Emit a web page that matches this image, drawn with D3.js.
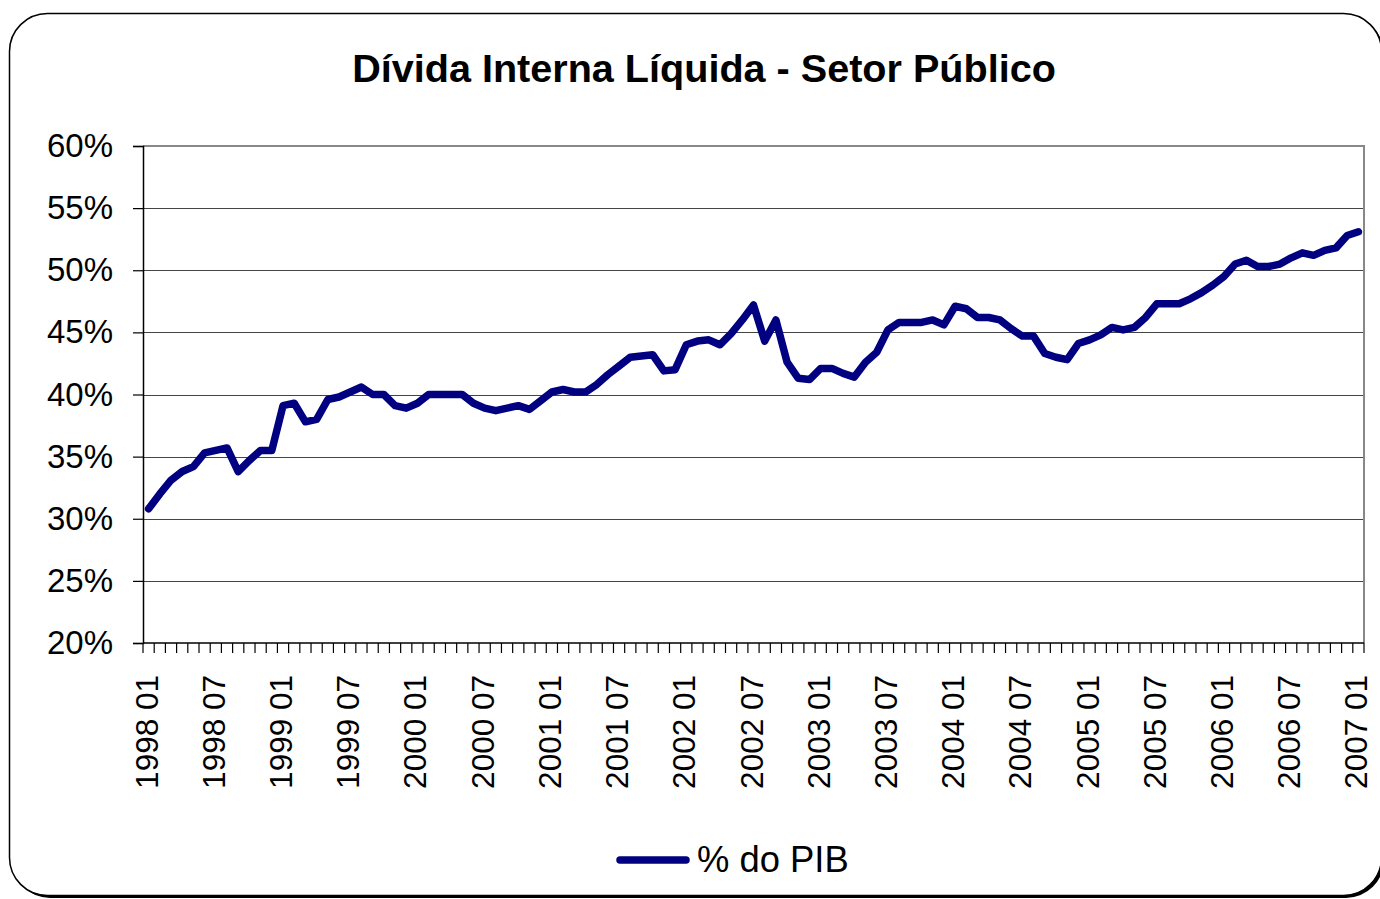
<!DOCTYPE html>
<html>
<head>
<meta charset="UTF-8">
<title>Dívida Interna Líquida</title>
<script src="https://cdn.jsdelivr.net/npm/d3@7"></script>
<style>
  html, body { margin: 0; padding: 0; background: #fff; }
  svg { display: block; font-family: "Liberation Sans", Arial, sans-serif; }
</style>
</head>
<body>
<div id="chart"></div>
<script>
// monthly series, 1998 01 .. 2007 01 (% of GDP)
const years = ["1998", "1999", "2000", "2001", "2002", "2003", "2004", "2005", "2006", "2007"];
const months = ["01", "02", "03", "04", "05", "06", "07", "08", "09", "10", "11", "12"];
const pctPIB = [
  30.8, 32.0, 33.1, 33.8, 34.2, 35.3, 35.5, 35.7, 33.8, 34.7, 35.5, 35.5,
  39.1, 39.3, 37.8, 38.0, 39.6, 39.8, 40.2, 40.6, 40.0, 40.0, 39.1, 38.9,
  39.3, 40.0, 40.0, 40.0, 40.0, 39.3, 38.9, 38.7, 38.9, 39.1, 38.8, 39.5,
  40.2, 40.4, 40.2, 40.2, 40.8, 41.6, 42.3, 43.0, 43.1, 43.2, 41.9, 42.0,
  44.0, 44.3, 44.4, 44.0, 44.9, 46.0, 47.2, 44.3, 46.0, 42.6, 41.3, 41.2,
  42.1, 42.1, 41.7, 41.4, 42.6, 43.4, 45.2, 45.8, 45.8, 45.8, 46.0, 45.6,
  47.1, 46.9, 46.2, 46.2, 46.0, 45.3, 44.7, 44.7, 43.3, 43.0, 42.8, 44.1,
  44.4, 44.8, 45.4, 45.2, 45.4, 46.2, 47.3, 47.3, 47.3, 47.7, 48.2, 48.8,
  49.5, 50.5, 50.8, 50.3, 50.3, 50.5, 51.0, 51.4, 51.2, 51.6, 51.8, 52.8,
  53.1
];
const yTicks = [20, 25, 30, 35, 40, 45, 50, 55, 60];
const title = "Dívida Interna Líquida - Setor Público";
const seriesName = "% do PIB";

// category labels "YYYY MM"
const categories = [];
years.forEach(y => months.forEach(m => {
  if (categories.length < pctPIB.length) categories.push(y + " " + m);
}));
const labelEvery = 6;

const width = 1380, height = 899;
const plotLeft = 143, plotRight = 1364, plotTop = 146, plotBottom = 643;

const svg = d3.select("#chart").append("svg")
  .attr("width", width)
  .attr("height", height);

// outer rounded frame with shadow
svg.append("rect")
  .attr("x", 12).attr("y", 16)
  .attr("width", 1372).attr("height", 882)
  .attr("rx", 38).attr("fill", "#000");
svg.append("rect")
  .attr("x", 9.5).attr("y", 13.5)
  .attr("width", 1372).attr("height", 882)
  .attr("rx", 38)
  .attr("fill", "#fff")
  .attr("stroke", "#000")
  .attr("stroke-width", 1.5);

svg.append("text")
  .attr("x", 704).attr("y", 82)
  .attr("text-anchor", "middle")
  .attr("font-size", "39.6px")
  .attr("font-weight", "bold")
  .text(title);

const x = d3.scaleBand()
  .domain(categories)
  .range([plotLeft, plotRight])
  .padding(0);

const y = d3.scaleLinear()
  .domain([20, 60])
  .range([plotBottom, plotTop]);

// gridlines
svg.append("g")
  .selectAll("line")
  .data(yTicks.slice(1, -1))
  .join("line")
  .attr("x1", plotLeft).attr("x2", plotRight)
  .attr("y1", d => Math.round(y(d)) + 0.5)
  .attr("y2", d => Math.round(y(d)) + 0.5)
  .attr("stroke", "#444")
  .attr("stroke-width", 1);

// plot frame top / right
svg.append("path")
  .attr("d", `M${plotLeft},${plotTop}H${plotRight}V${plotBottom}`)
  .attr("fill", "none")
  .attr("stroke", "#888")
  .attr("stroke-width", 2);

// y axis
const yAxis = svg.append("g")
  .attr("transform", `translate(${plotLeft},0)`)
  .call(d3.axisLeft(y).tickValues(yTicks).tickFormat(d => d + "%").tickSize(10).tickPadding(20));
yAxis.select(".domain").attr("stroke", "#000").attr("stroke-width", 1.5);
yAxis.selectAll(".tick line").attr("stroke", "#000").attr("stroke-width", 1.2);
yAxis.selectAll("text")
  .attr("font-size", "33px")
  .attr("fill", "#000")
  .attr("font-family", "Liberation Sans, Arial, sans-serif");

// x axis: ticks at category boundaries, labels every 6 months
const xg = svg.append("g").attr("transform", `translate(0,${plotBottom})`);
xg.append("line")
  .attr("x1", plotLeft).attr("x2", plotRight)
  .attr("stroke", "#000").attr("stroke-width", 1.5);
const bounds = categories.map(c => x(c)).concat([plotRight]);
xg.selectAll("line.tk")
  .data(bounds)
  .join("line")
  .attr("class", "tk")
  .attr("x1", d => d).attr("x2", d => d)
  .attr("y1", 0).attr("y2", 10)
  .attr("stroke", "#000").attr("stroke-width", 1.2);
xg.selectAll("text")
  .data(categories.filter((c, i) => i % labelEvery === 0))
  .join("text")
  .attr("transform", d => `translate(${x(d) + x.bandwidth() / 2 - 2},32) rotate(-90)`)
  .attr("text-anchor", "end")
  .attr("dominant-baseline", "central")
  .attr("font-size", "31.5px")
  .attr("fill", "#000")
  .text(d => d);

// series line
const line = d3.line()
  .x((d, i) => x(categories[i]) + x.bandwidth() / 2)
  .y(d => y(d));

svg.append("path")
  .datum(pctPIB)
  .attr("d", line)
  .attr("fill", "none")
  .attr("stroke", "#000080")
  .attr("stroke-width", 7.5)
  .attr("stroke-linejoin", "round")
  .attr("stroke-linecap", "round");

// legend
const lg = svg.append("g").attr("transform", "translate(620,860)");
lg.append("line")
  .attr("x1", 0).attr("x2", 66)
  .attr("stroke", "#000080")
  .attr("stroke-width", 7.5)
  .attr("stroke-linecap", "round");
lg.append("text")
  .attr("x", 77).attr("y", 12)
  .attr("font-size", "36.4px")
  .attr("fill", "#000")
  .text(seriesName);
</script>
</body>
</html>
